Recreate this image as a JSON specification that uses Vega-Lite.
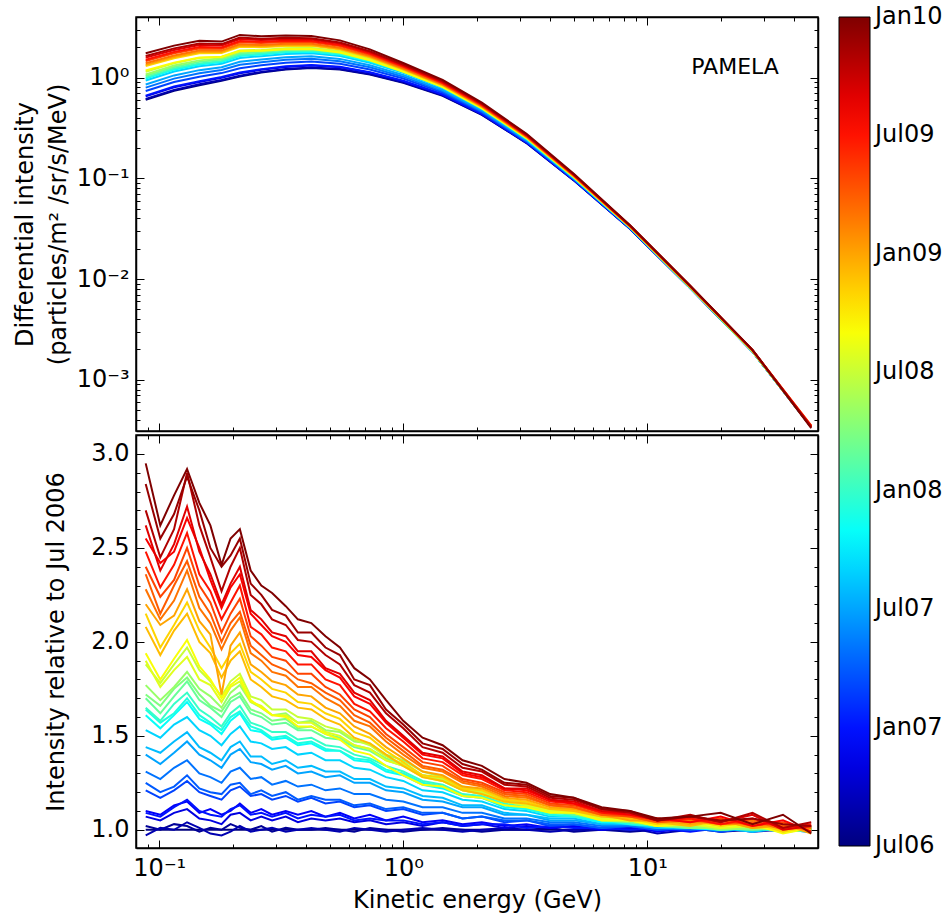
{
"$schema":"https://vega.github.io/schema/vega-lite/v6.json",
"background":"white",
"padding":{"left":12,"top":15,"right":0,"bottom":0},
"spacing":0,
"config":{
"font":"DejaVu Sans",
"view":{"stroke":"black","strokeWidth":1.5},
"axis":{"labelFont":"DejaVu Sans","titleFont":"DejaVu Sans","labelFontSize":24,"titleFontSize":24,"labelColor":"black","titleColor":"black","titleFontWeight":"normal","domainColor":"black","domainWidth":1.5,"tickColor":"black","tickWidth":1,"grid":false,"labelOverlap":false,"labelFlush":false,"labelBound":false},
"legend":{"gradientVerticalMaxLength":1000,"gradientVerticalMinLength":10}
},
"resolve":{"scale":{"x":"independent","y":"independent","color":"shared"}},
"datasets":{
"flux":[
{"t":0,"e":0.088,"f":0.603},{"t":0,"e":0.115,"f":0.741},{"t":0,"e":0.146,"f":0.841},{"t":0,"e":0.18,"f":0.933},{"t":0,"e":0.214,"f":1.023},{"t":0,"e":0.262,"f":1.122},{"t":0,"e":0.33,"f":1.202},{"t":0,"e":0.42,"f":1.245},{"t":0,"e":0.55,"f":1.202},{"t":0,"e":0.73,"f":1.072},{"t":0,"e":1.0,"f":0.891},{"t":0,"e":1.45,"f":0.661},{"t":0,"e":2.1,"f":0.427},{"t":0,"e":3.2,"f":0.224},{"t":0,"e":5.0,"f":0.0955},{"t":0,"e":8.5,"f":0.0316},{"t":0,"e":15,"f":0.00813},{"t":0,"e":27,"f":0.00191},{"t":0,"e":47,"f":0.00034},
{"t":2,"e":0.088,"f":0.615},{"t":2,"e":0.115,"f":0.756},{"t":2,"e":0.146,"f":0.858},{"t":2,"e":0.18,"f":0.949},{"t":2,"e":0.214,"f":1.042},{"t":2,"e":0.262,"f":1.141},{"t":2,"e":0.33,"f":1.221},{"t":2,"e":0.42,"f":1.264},{"t":2,"e":0.55,"f":1.218},{"t":2,"e":0.73,"f":1.084},{"t":2,"e":1.0,"f":0.899},{"t":2,"e":1.45,"f":0.666},{"t":2,"e":2.1,"f":0.429},{"t":2,"e":3.2,"f":0.225},{"t":2,"e":5.0,"f":0.0957},{"t":2,"e":8.5,"f":0.0316},{"t":2,"e":15,"f":0.00813},{"t":2,"e":27,"f":0.00191},{"t":2,"e":47,"f":0.00034},
{"t":4,"e":0.088,"f":0.651},{"t":4,"e":0.115,"f":0.800},{"t":4,"e":0.146,"f":0.907},{"t":4,"e":0.18,"f":0.997},{"t":4,"e":0.214,"f":1.103},{"t":4,"e":0.262,"f":1.196},{"t":4,"e":0.33,"f":1.277},{"t":4,"e":0.42,"f":1.317},{"t":4,"e":0.55,"f":1.266},{"t":4,"e":0.73,"f":1.121},{"t":4,"e":1.0,"f":0.924},{"t":4,"e":1.45,"f":0.680},{"t":4,"e":2.1,"f":0.436},{"t":4,"e":3.2,"f":0.227},{"t":4,"e":5.0,"f":0.0964},{"t":4,"e":8.5,"f":0.0317},{"t":4,"e":15,"f":0.00813},{"t":4,"e":27,"f":0.00191},{"t":4,"e":47,"f":0.00034},
{"t":6,"e":0.088,"f":0.663},{"t":6,"e":0.115,"f":0.815},{"t":6,"e":0.146,"f":0.923},{"t":6,"e":0.18,"f":1.013},{"t":6,"e":0.214,"f":1.122},{"t":6,"e":0.262,"f":1.215},{"t":6,"e":0.33,"f":1.296},{"t":6,"e":0.42,"f":1.336},{"t":6,"e":0.55,"f":1.281},{"t":6,"e":0.73,"f":1.133},{"t":6,"e":1.0,"f":0.932},{"t":6,"e":1.45,"f":0.684},{"t":6,"e":2.1,"f":0.438},{"t":6,"e":3.2,"f":0.228},{"t":6,"e":5.0,"f":0.0966},{"t":6,"e":8.5,"f":0.0318},{"t":6,"e":15,"f":0.00815},{"t":6,"e":27,"f":0.00191},{"t":6,"e":47,"f":0.00034},
{"t":8,"e":0.088,"f":0.736},{"t":8,"e":0.115,"f":0.904},{"t":8,"e":0.146,"f":1.022},{"t":8,"e":0.18,"f":1.109},{"t":8,"e":0.214,"f":1.241},{"t":8,"e":0.262,"f":1.327},{"t":8,"e":0.33,"f":1.408},{"t":8,"e":0.42,"f":1.445},{"t":8,"e":0.55,"f":1.376},{"t":8,"e":0.73,"f":1.206},{"t":8,"e":1.0,"f":0.981},{"t":8,"e":1.45,"f":0.712},{"t":8,"e":2.1,"f":0.451},{"t":8,"e":3.2,"f":0.232},{"t":8,"e":5.0,"f":0.0978},{"t":8,"e":8.5,"f":0.0320},{"t":8,"e":15,"f":0.00817},{"t":8,"e":27,"f":0.00191},{"t":8,"e":47,"f":0.00034},
{"t":10,"e":0.088,"f":0.796},{"t":10,"e":0.115,"f":0.978},{"t":10,"e":0.146,"f":1.105},{"t":10,"e":0.18,"f":1.190},{"t":10,"e":0.214,"f":1.340},{"t":10,"e":0.262,"f":1.420},{"t":10,"e":0.33,"f":1.502},{"t":10,"e":0.42,"f":1.536},{"t":10,"e":0.55,"f":1.456},{"t":10,"e":0.73,"f":1.268},{"t":10,"e":1.0,"f":1.022},{"t":10,"e":1.45,"f":0.735},{"t":10,"e":2.1,"f":0.463},{"t":10,"e":3.2,"f":0.236},{"t":10,"e":5.0,"f":0.0989},{"t":10,"e":8.5,"f":0.0321},{"t":10,"e":15,"f":0.00818},{"t":10,"e":27,"f":0.00191},{"t":10,"e":47,"f":0.00034},
{"t":12,"e":0.088,"f":0.856},{"t":12,"e":0.115,"f":1.052},{"t":12,"e":0.146,"f":1.187},{"t":12,"e":0.18,"f":1.270},{"t":12,"e":0.214,"f":1.440},{"t":12,"e":0.262,"f":1.513},{"t":12,"e":0.33,"f":1.596},{"t":12,"e":0.42,"f":1.627},{"t":12,"e":0.55,"f":1.535},{"t":12,"e":0.73,"f":1.329},{"t":12,"e":1.0,"f":1.063},{"t":12,"e":1.45,"f":0.758},{"t":12,"e":2.1,"f":0.474},{"t":12,"e":3.2,"f":0.240},{"t":12,"e":5.0,"f":0.0999},{"t":12,"e":8.5,"f":0.0323},{"t":12,"e":15,"f":0.00820},{"t":12,"e":27,"f":0.00191},{"t":12,"e":47,"f":0.00034},
{"t":14,"e":0.088,"f":0.935},{"t":14,"e":0.115,"f":1.149},{"t":14,"e":0.146,"f":1.294},{"t":14,"e":0.18,"f":1.374},{"t":14,"e":0.214,"f":1.569},{"t":14,"e":0.262,"f":1.634},{"t":14,"e":0.33,"f":1.718},{"t":14,"e":0.42,"f":1.745},{"t":14,"e":0.55,"f":1.638},{"t":14,"e":0.73,"f":1.408},{"t":14,"e":1.0,"f":1.117},{"t":14,"e":1.45,"f":0.788},{"t":14,"e":2.1,"f":0.488},{"t":14,"e":3.2,"f":0.245},{"t":14,"e":5.0,"f":0.1013},{"t":14,"e":8.5,"f":0.0325},{"t":14,"e":15,"f":0.00822},{"t":14,"e":27,"f":0.00191},{"t":14,"e":47,"f":0.00034},
{"t":16,"e":0.088,"f":0.977},{"t":16,"e":0.115,"f":1.200},{"t":16,"e":0.146,"f":1.352},{"t":16,"e":0.18,"f":1.430},{"t":16,"e":0.214,"f":1.638},{"t":16,"e":0.262,"f":1.699},{"t":16,"e":0.33,"f":1.784},{"t":16,"e":0.42,"f":1.809},{"t":16,"e":0.55,"f":1.694},{"t":16,"e":0.73,"f":1.451},{"t":16,"e":1.0,"f":1.145},{"t":16,"e":1.45,"f":0.804},{"t":16,"e":2.1,"f":0.496},{"t":16,"e":3.2,"f":0.248},{"t":16,"e":5.0,"f":0.102},{"t":16,"e":8.5,"f":0.0326},{"t":16,"e":15,"f":0.00823},{"t":16,"e":27,"f":0.00191},{"t":16,"e":47,"f":0.00034},
{"t":18,"e":0.088,"f":1.001},{"t":18,"e":0.115,"f":1.230},{"t":18,"e":0.146,"f":1.385},{"t":18,"e":0.18,"f":1.462},{"t":18,"e":0.214,"f":1.678},{"t":18,"e":0.262,"f":1.736},{"t":18,"e":0.33,"f":1.821},{"t":18,"e":0.42,"f":1.845},{"t":18,"e":0.55,"f":1.725},{"t":18,"e":0.73,"f":1.475},{"t":18,"e":1.0,"f":1.162},{"t":18,"e":1.45,"f":0.813},{"t":18,"e":2.1,"f":0.500},{"t":18,"e":3.2,"f":0.249},{"t":18,"e":5.0,"f":0.1024},{"t":18,"e":8.5,"f":0.0326},{"t":18,"e":15,"f":0.00824},{"t":18,"e":27,"f":0.00191},{"t":18,"e":47,"f":0.00034},
{"t":20,"e":0.088,"f":1.037},{"t":20,"e":0.115,"f":1.275},{"t":20,"e":0.146,"f":1.434},{"t":20,"e":0.18,"f":1.510},{"t":20,"e":0.214,"f":1.737},{"t":20,"e":0.262,"f":1.792},{"t":20,"e":0.33,"f":1.877},{"t":20,"e":0.42,"f":1.899},{"t":20,"e":0.55,"f":1.773},{"t":20,"e":0.73,"f":1.512},{"t":20,"e":1.0,"f":1.186},{"t":20,"e":1.45,"f":0.827},{"t":20,"e":2.1,"f":0.507},{"t":20,"e":3.2,"f":0.251},{"t":20,"e":5.0,"f":0.1031},{"t":20,"e":8.5,"f":0.0327},{"t":20,"e":15,"f":0.00825},{"t":20,"e":27,"f":0.00191},{"t":20,"e":47,"f":0.00034},
{"t":22,"e":0.088,"f":1.073},{"t":22,"e":0.115,"f":1.319},{"t":22,"e":0.146,"f":1.484},{"t":22,"e":0.18,"f":1.559},{"t":22,"e":0.214,"f":1.797},{"t":22,"e":0.262,"f":1.848},{"t":22,"e":0.33,"f":1.934},{"t":22,"e":0.42,"f":1.954},{"t":22,"e":0.55,"f":1.821},{"t":22,"e":0.73,"f":1.549},{"t":22,"e":1.0,"f":1.211},{"t":22,"e":1.45,"f":0.841},{"t":22,"e":2.1,"f":0.514},{"t":22,"e":3.2,"f":0.254},{"t":22,"e":5.0,"f":0.1037},{"t":22,"e":8.5,"f":0.0328},{"t":22,"e":15,"f":0.00826},{"t":22,"e":27,"f":0.00191},{"t":22,"e":47,"f":0.00034},
{"t":24,"e":0.088,"f":1.146},{"t":24,"e":0.115,"f":1.391},{"t":24,"e":0.146,"f":1.564},{"t":24,"e":0.18,"f":1.613},{"t":24,"e":0.214,"f":1.856},{"t":24,"e":0.262,"f":1.884},{"t":24,"e":0.33,"f":1.959},{"t":24,"e":0.42,"f":1.974},{"t":24,"e":0.55,"f":1.829},{"t":24,"e":0.73,"f":1.545},{"t":24,"e":1.0,"f":1.196},{"t":24,"e":1.45,"f":0.833},{"t":24,"e":2.1,"f":0.510},{"t":24,"e":3.2,"f":0.254},{"t":24,"e":5.0,"f":0.1039},{"t":24,"e":8.5,"f":0.0330},{"t":24,"e":15,"f":0.00831},{"t":24,"e":27,"f":0.00193},{"t":24,"e":47,"f":0.00034},
{"t":26,"e":0.088,"f":1.176},{"t":26,"e":0.115,"f":1.410},{"t":26,"e":0.146,"f":1.584},{"t":26,"e":0.18,"f":1.607},{"t":26,"e":0.214,"f":1.839},{"t":26,"e":0.262,"f":1.847},{"t":26,"e":0.33,"f":1.910},{"t":26,"e":0.42,"f":1.920},{"t":26,"e":0.55,"f":1.773},{"t":26,"e":0.73,"f":1.490},{"t":26,"e":1.0,"f":1.145},{"t":26,"e":1.45,"f":0.805},{"t":26,"e":2.1,"f":0.496},{"t":26,"e":3.2,"f":0.251},{"t":26,"e":5.0,"f":0.1032},{"t":26,"e":8.5,"f":0.0330},{"t":26,"e":15,"f":0.00836},{"t":26,"e":27,"f":0.00195},{"t":26,"e":47,"f":0.00034},
{"t":28,"e":0.088,"f":1.302},{"t":28,"e":0.115,"f":1.558},{"t":28,"e":0.146,"f":1.748},{"t":28,"e":0.18,"f":1.755},{"t":28,"e":0.214,"f":2.019},{"t":28,"e":0.262,"f":2.007},{"t":28,"e":0.33,"f":2.066},{"t":28,"e":0.42,"f":2.069},{"t":28,"e":0.55,"f":1.899},{"t":28,"e":0.73,"f":1.582},{"t":28,"e":1.0,"f":1.201},{"t":28,"e":1.45,"f":0.837},{"t":28,"e":2.1,"f":0.511},{"t":28,"e":3.2,"f":0.257},{"t":28,"e":5.0,"f":0.1049},{"t":28,"e":8.5,"f":0.0333},{"t":28,"e":15,"f":0.00841},{"t":28,"e":27,"f":0.00195},{"t":28,"e":47,"f":0.00034},
{"t":30,"e":0.088,"f":1.339},{"t":30,"e":0.115,"f":1.600},{"t":30,"e":0.146,"f":1.795},{"t":30,"e":0.18,"f":1.798},{"t":30,"e":0.214,"f":2.071},{"t":30,"e":0.262,"f":2.053},{"t":30,"e":0.33,"f":2.111},{"t":30,"e":0.42,"f":2.111},{"t":30,"e":0.55,"f":1.935},{"t":30,"e":0.73,"f":1.609},{"t":30,"e":1.0,"f":1.217},{"t":30,"e":1.45,"f":0.846},{"t":30,"e":2.1,"f":0.516},{"t":30,"e":3.2,"f":0.258},{"t":30,"e":5.0,"f":0.1054},{"t":30,"e":8.5,"f":0.0333},{"t":30,"e":15,"f":0.00843},{"t":30,"e":27,"f":0.00196},{"t":30,"e":47,"f":0.00035},
{"t":32,"e":0.088,"f":1.387},{"t":32,"e":0.115,"f":1.656},{"t":32,"e":0.146,"f":1.858},{"t":32,"e":0.18,"f":1.855},{"t":32,"e":0.214,"f":2.140},{"t":32,"e":0.262,"f":2.114},{"t":32,"e":0.33,"f":2.171},{"t":32,"e":0.42,"f":2.168},{"t":32,"e":0.55,"f":1.983},{"t":32,"e":0.73,"f":1.644},{"t":32,"e":1.0,"f":1.238},{"t":32,"e":1.45,"f":0.859},{"t":32,"e":2.1,"f":0.521},{"t":32,"e":3.2,"f":0.260},{"t":32,"e":5.0,"f":0.1061},{"t":32,"e":8.5,"f":0.0335},{"t":32,"e":15,"f":0.00845},{"t":32,"e":27,"f":0.00196},{"t":32,"e":47,"f":0.00034},
{"t":34,"e":0.088,"f":1.459},{"t":34,"e":0.115,"f":1.741},{"t":34,"e":0.146,"f":1.951},{"t":34,"e":0.18,"f":1.940},{"t":34,"e":0.214,"f":2.243},{"t":34,"e":0.262,"f":2.205},{"t":34,"e":0.33,"f":2.260},{"t":34,"e":0.42,"f":2.253},{"t":34,"e":0.55,"f":2.055},{"t":34,"e":0.73,"f":1.697},{"t":34,"e":1.0,"f":1.270},{"t":34,"e":1.45,"f":0.877},{"t":34,"e":2.1,"f":0.530},{"t":34,"e":3.2,"f":0.264},{"t":34,"e":5.0,"f":0.1070},{"t":34,"e":8.5,"f":0.0336},{"t":34,"e":15,"f":0.00848},{"t":34,"e":27,"f":0.00196},{"t":34,"e":47,"f":0.00034},
{"t":36,"e":0.088,"f":1.508},{"t":36,"e":0.115,"f":1.797},{"t":36,"e":0.146,"f":2.014},{"t":36,"e":0.18,"f":1.997},{"t":36,"e":0.214,"f":2.312},{"t":36,"e":0.262,"f":2.267},{"t":36,"e":0.33,"f":2.320},{"t":36,"e":0.42,"f":2.310},{"t":36,"e":0.55,"f":2.104},{"t":36,"e":0.73,"f":1.732},{"t":36,"e":1.0,"f":1.292},{"t":36,"e":1.45,"f":0.889},{"t":36,"e":2.1,"f":0.536},{"t":36,"e":3.2,"f":0.266},{"t":36,"e":5.0,"f":0.1077},{"t":36,"e":8.5,"f":0.0337},{"t":36,"e":15,"f":0.00850},{"t":36,"e":27,"f":0.00197},{"t":36,"e":47,"f":0.00035},
{"t":38,"e":0.088,"f":1.580},{"t":38,"e":0.115,"f":1.881},{"t":38,"e":0.146,"f":2.108},{"t":38,"e":0.18,"f":2.082},{"t":38,"e":0.214,"f":2.415},{"t":38,"e":0.262,"f":2.358},{"t":38,"e":0.33,"f":2.409},{"t":38,"e":0.42,"f":2.395},{"t":38,"e":0.55,"f":2.176},{"t":38,"e":0.73,"f":1.785},{"t":38,"e":1.0,"f":1.324},{"t":38,"e":1.45,"f":0.907},{"t":38,"e":2.1,"f":0.545},{"t":38,"e":3.2,"f":0.269},{"t":38,"e":5.0,"f":0.1087},{"t":38,"e":8.5,"f":0.0339},{"t":38,"e":15,"f":0.00853},{"t":38,"e":27,"f":0.00197},{"t":38,"e":47,"f":0.00034},
{"t":40,"e":0.088,"f":1.640},{"t":40,"e":0.115,"f":1.952},{"t":40,"e":0.146,"f":2.186},{"t":40,"e":0.18,"f":2.152},{"t":40,"e":0.214,"f":2.500},{"t":40,"e":0.262,"f":2.434},{"t":40,"e":0.33,"f":2.483},{"t":40,"e":0.42,"f":2.466},{"t":40,"e":0.55,"f":2.236},{"t":40,"e":0.73,"f":1.829},{"t":40,"e":1.0,"f":1.350},{"t":40,"e":1.45,"f":0.922},{"t":40,"e":2.1,"f":0.552},{"t":40,"e":3.2,"f":0.272},{"t":40,"e":5.0,"f":0.1095},{"t":40,"e":8.5,"f":0.0340},{"t":40,"e":15,"f":0.00855},{"t":40,"e":27,"f":0.00198},{"t":40,"e":47,"f":0.00034},
{"t":42,"e":0.088,"f":1.749},{"t":42,"e":0.115,"f":2.079},{"t":42,"e":0.146,"f":2.327},{"t":42,"e":0.18,"f":2.280},{"t":42,"e":0.214,"f":2.655},{"t":42,"e":0.262,"f":2.572},{"t":42,"e":0.33,"f":2.618},{"t":42,"e":0.42,"f":2.594},{"t":42,"e":0.55,"f":2.344},{"t":42,"e":0.73,"f":1.908},{"t":42,"e":1.0,"f":1.398},{"t":42,"e":1.45,"f":0.950},{"t":42,"e":2.1,"f":0.565},{"t":42,"e":3.2,"f":0.277},{"t":42,"e":5.0,"f":0.1109},{"t":42,"e":8.5,"f":0.0343},{"t":42,"e":15,"f":0.00859},{"t":42,"e":27,"f":0.00198},{"t":42,"e":47,"f":0.00033}
],
"ratio":[
{"t":0,"e":0.088,"r":1},{"t":0,"e":0.101,"r":1},{"t":0,"e":0.115,"r":1},{"t":0,"e":0.13,"r":1},{"t":0,"e":0.146,"r":1},{"t":0,"e":0.162,"r":1},{"t":0,"e":0.18,"r":1},{"t":0,"e":0.196,"r":1},{"t":0,"e":0.214,"r":1},{"t":0,"e":0.237,"r":1},{"t":0,"e":0.262,"r":1},{"t":0,"e":0.29,"r":1},{"t":0,"e":0.33,"r":1},{"t":0,"e":0.37,"r":1},{"t":0,"e":0.42,"r":1},{"t":0,"e":0.48,"r":1},{"t":0,"e":0.55,"r":1},{"t":0,"e":0.63,"r":1},{"t":0,"e":0.73,"r":1},{"t":0,"e":0.85,"r":1},{"t":0,"e":1.0,"r":1},{"t":0,"e":1.2,"r":1},{"t":0,"e":1.45,"r":1},{"t":0,"e":1.75,"r":1},{"t":0,"e":2.1,"r":1},{"t":0,"e":2.6,"r":1},{"t":0,"e":3.2,"r":1},{"t":0,"e":4.0,"r":1},{"t":0,"e":5.0,"r":1},{"t":0,"e":6.5,"r":1},{"t":0,"e":8.5,"r":1},{"t":0,"e":11,"r":1},{"t":0,"e":15,"r":1},{"t":0,"e":20,"r":1},{"t":0,"e":27,"r":1},{"t":0,"e":36,"r":1},{"t":0,"e":47,"r":1},
{"t":1,"e":0.088,"r":1.02},{"t":1,"e":0.101,"r":1.00},{"t":1,"e":0.115,"r":1.03},{"t":1,"e":0.13,"r":1.02},{"t":1,"e":0.146,"r":0.99},{"t":1,"e":0.162,"r":1.01},{"t":1,"e":0.18,"r":1.00},{"t":1,"e":0.196,"r":1.03},{"t":1,"e":0.214,"r":1.01},{"t":1,"e":0.237,"r":1.00},{"t":1,"e":0.262,"r":1.02},{"t":1,"e":0.29,"r":0.99},{"t":1,"e":0.33,"r":1.01},{"t":1,"e":0.37,"r":1.00},{"t":1,"e":0.42,"r":1.00},{"t":1,"e":0.48,"r":1.01},{"t":1,"e":0.55,"r":1.00},{"t":1,"e":0.63,"r":0.99},{"t":1,"e":0.73,"r":1.01},{"t":1,"e":0.85,"r":1.00},{"t":1,"e":1.0,"r":0.99},{"t":1,"e":1.2,"r":1.00},{"t":1,"e":1.45,"r":1.01},{"t":1,"e":1.75,"r":1.00},{"t":1,"e":2.1,"r":0.99},{"t":1,"e":2.6,"r":1.00},{"t":1,"e":3.2,"r":1.00},{"t":1,"e":4.0,"r":1.01},{"t":1,"e":5.0,"r":0.99},{"t":1,"e":6.5,"r":1.00},{"t":1,"e":8.5,"r":0.99},{"t":1,"e":11,"r":1.00},{"t":1,"e":15,"r":1.01},{"t":1,"e":20,"r":0.99},{"t":1,"e":27,"r":1.00},{"t":1,"e":36,"r":1.02},{"t":1,"e":47,"r":0.99},
{"t":2,"e":0.088,"r":0.97},{"t":2,"e":0.101,"r":1.01},{"t":2,"e":0.115,"r":1.00},{"t":2,"e":0.13,"r":1.04},{"t":2,"e":0.146,"r":1.01},{"t":2,"e":0.162,"r":0.98},{"t":2,"e":0.18,"r":0.97},{"t":2,"e":0.196,"r":0.99},{"t":2,"e":0.214,"r":1.02},{"t":2,"e":0.237,"r":0.99},{"t":2,"e":0.262,"r":1.00},{"t":2,"e":0.29,"r":1.01},{"t":2,"e":0.33,"r":0.99},{"t":2,"e":0.37,"r":1.00},{"t":2,"e":0.42,"r":1.01},{"t":2,"e":0.48,"r":1.00},{"t":2,"e":0.55,"r":0.99},{"t":2,"e":0.63,"r":1.01},{"t":2,"e":0.73,"r":1.00},{"t":2,"e":0.85,"r":0.99},{"t":2,"e":1.0,"r":1.00},{"t":2,"e":1.2,"r":1.01},{"t":2,"e":1.45,"r":1.00},{"t":2,"e":1.75,"r":0.99},{"t":2,"e":2.1,"r":1.00},{"t":2,"e":2.6,"r":1.01},{"t":2,"e":3.2,"r":1.00},{"t":2,"e":4.0,"r":0.99},{"t":2,"e":5.0,"r":1.00},{"t":2,"e":6.5,"r":1.00},{"t":2,"e":8.5,"r":1.01},{"t":2,"e":11,"r":0.98},{"t":2,"e":15,"r":1.00},{"t":2,"e":20,"r":1.01},{"t":2,"e":27,"r":0.99},{"t":2,"e":36,"r":1.00},{"t":2,"e":47,"r":1.01},
{"t":4,"e":0.088,"r":1.07},{"t":4,"e":0.101,"r":1.05},{"t":4,"e":0.115,"r":1.09},{"t":4,"e":0.13,"r":1.11},{"t":4,"e":0.146,"r":1.06},{"t":4,"e":0.162,"r":1.05},{"t":4,"e":0.18,"r":1.03},{"t":4,"e":0.196,"r":1.08},{"t":4,"e":0.214,"r":1.09},{"t":4,"e":0.237,"r":1.05},{"t":4,"e":0.262,"r":1.07},{"t":4,"e":0.29,"r":1.05},{"t":4,"e":0.33,"r":1.07},{"t":4,"e":0.37,"r":1.04},{"t":4,"e":0.42,"r":1.06},{"t":4,"e":0.48,"r":1.05},{"t":4,"e":0.55,"r":1.06},{"t":4,"e":0.63,"r":1.04},{"t":4,"e":0.73,"r":1.05},{"t":4,"e":0.85,"r":1.03},{"t":4,"e":1.0,"r":1.04},{"t":4,"e":1.2,"r":1.02},{"t":4,"e":1.45,"r":1.04},{"t":4,"e":1.75,"r":1.02},{"t":4,"e":2.1,"r":1.03},{"t":4,"e":2.6,"r":1.01},{"t":4,"e":3.2,"r":1.02},{"t":4,"e":4.0,"r":1.01},{"t":4,"e":5.0,"r":1.02},{"t":4,"e":6.5,"r":1.00},{"t":4,"e":8.5,"r":1.01},{"t":4,"e":11,"r":1.00},{"t":4,"e":15,"r":1.02},{"t":4,"e":20,"r":0.99},{"t":4,"e":27,"r":1.01},{"t":4,"e":36,"r":1.00},{"t":4,"e":47,"r":0.99},
{"t":5,"e":0.088,"r":1.10},{"t":5,"e":0.101,"r":1.08},{"t":5,"e":0.115,"r":1.13},{"t":5,"e":0.13,"r":1.15},{"t":5,"e":0.146,"r":1.09},{"t":5,"e":0.162,"r":1.11},{"t":5,"e":0.18,"r":1.08},{"t":5,"e":0.196,"r":1.10},{"t":5,"e":0.214,"r":1.14},{"t":5,"e":0.237,"r":1.09},{"t":5,"e":0.262,"r":1.11},{"t":5,"e":0.29,"r":1.08},{"t":5,"e":0.33,"r":1.10},{"t":5,"e":0.37,"r":1.08},{"t":5,"e":0.42,"r":1.10},{"t":5,"e":0.48,"r":1.07},{"t":5,"e":0.55,"r":1.09},{"t":5,"e":0.63,"r":1.06},{"t":5,"e":0.73,"r":1.08},{"t":5,"e":0.85,"r":1.05},{"t":5,"e":1.0,"r":1.07},{"t":5,"e":1.2,"r":1.04},{"t":5,"e":1.45,"r":1.05},{"t":5,"e":1.75,"r":1.03},{"t":5,"e":2.1,"r":1.04},{"t":5,"e":2.6,"r":1.02},{"t":5,"e":3.2,"r":1.03},{"t":5,"e":4.0,"r":1.01},{"t":5,"e":5.0,"r":1.02},{"t":5,"e":6.5,"r":1.00},{"t":5,"e":8.5,"r":1.02},{"t":5,"e":11,"r":0.99},{"t":5,"e":15,"r":1.01},{"t":5,"e":20,"r":1.00},{"t":5,"e":27,"r":1.01},{"t":5,"e":36,"r":0.99},{"t":5,"e":47,"r":1.01},
{"t":6,"e":0.088,"r":1.09},{"t":6,"e":0.101,"r":1.07},{"t":6,"e":0.115,"r":1.12},{"t":6,"e":0.13,"r":1.16},{"t":6,"e":0.146,"r":1.10},{"t":6,"e":0.162,"r":1.08},{"t":6,"e":0.18,"r":1.07},{"t":6,"e":0.196,"r":1.11},{"t":6,"e":0.214,"r":1.13},{"t":6,"e":0.237,"r":1.08},{"t":6,"e":0.262,"r":1.09},{"t":6,"e":0.29,"r":1.07},{"t":6,"e":0.33,"r":1.09},{"t":6,"e":0.37,"r":1.06},{"t":6,"e":0.42,"r":1.08},{"t":6,"e":0.48,"r":1.07},{"t":6,"e":0.55,"r":1.08},{"t":6,"e":0.63,"r":1.05},{"t":6,"e":0.73,"r":1.06},{"t":6,"e":0.85,"r":1.05},{"t":6,"e":1.0,"r":1.05},{"t":6,"e":1.2,"r":1.03},{"t":6,"e":1.45,"r":1.04},{"t":6,"e":1.75,"r":1.02},{"t":6,"e":2.1,"r":1.03},{"t":6,"e":2.6,"r":1.03},{"t":6,"e":3.2,"r":1.01},{"t":6,"e":4.0,"r":1.02},{"t":6,"e":5.0,"r":1.01},{"t":6,"e":6.5,"r":1.01},{"t":6,"e":8.5,"r":1.00},{"t":6,"e":11,"r":1.01},{"t":6,"e":15,"r":0.99},{"t":6,"e":20,"r":1.01},{"t":6,"e":27,"r":1.00},{"t":6,"e":36,"r":1.01},{"t":6,"e":47,"r":1.00},
{"t":8,"e":0.088,"r":1.21},{"t":8,"e":0.101,"r":1.17},{"t":8,"e":0.115,"r":1.21},{"t":8,"e":0.13,"r":1.26},{"t":8,"e":0.146,"r":1.20},{"t":8,"e":0.162,"r":1.18},{"t":8,"e":0.18,"r":1.16},{"t":8,"e":0.196,"r":1.21},{"t":8,"e":0.214,"r":1.23},{"t":8,"e":0.237,"r":1.18},{"t":8,"e":0.262,"r":1.19},{"t":8,"e":0.29,"r":1.16},{"t":8,"e":0.33,"r":1.18},{"t":8,"e":0.37,"r":1.15},{"t":8,"e":0.42,"r":1.17},{"t":8,"e":0.48,"r":1.14},{"t":8,"e":0.55,"r":1.15},{"t":8,"e":0.63,"r":1.12},{"t":8,"e":0.73,"r":1.13},{"t":8,"e":0.85,"r":1.10},{"t":8,"e":1.0,"r":1.11},{"t":8,"e":1.2,"r":1.08},{"t":8,"e":1.45,"r":1.09},{"t":8,"e":1.75,"r":1.06},{"t":8,"e":2.1,"r":1.07},{"t":8,"e":2.6,"r":1.04},{"t":8,"e":3.2,"r":1.05},{"t":8,"e":4.0,"r":1.02},{"t":8,"e":5.0,"r":1.03},{"t":8,"e":6.5,"r":1.01},{"t":8,"e":8.5,"r":1.02},{"t":8,"e":11,"r":1.00},{"t":8,"e":15,"r":1.01},{"t":8,"e":20,"r":1.00},{"t":8,"e":27,"r":1.02},{"t":8,"e":36,"r":0.99},{"t":8,"e":47,"r":1.01},
{"t":9,"e":0.088,"r":1.25},{"t":9,"e":0.101,"r":1.20},{"t":9,"e":0.115,"r":1.23},{"t":9,"e":0.13,"r":1.29},{"t":9,"e":0.146,"r":1.22},{"t":9,"e":0.162,"r":1.20},{"t":9,"e":0.18,"r":1.19},{"t":9,"e":0.196,"r":1.24},{"t":9,"e":0.214,"r":1.25},{"t":9,"e":0.237,"r":1.19},{"t":9,"e":0.262,"r":1.21},{"t":9,"e":0.29,"r":1.18},{"t":9,"e":0.33,"r":1.20},{"t":9,"e":0.37,"r":1.16},{"t":9,"e":0.42,"r":1.18},{"t":9,"e":0.48,"r":1.16},{"t":9,"e":0.55,"r":1.16},{"t":9,"e":0.63,"r":1.13},{"t":9,"e":0.73,"r":1.14},{"t":9,"e":0.85,"r":1.11},{"t":9,"e":1.0,"r":1.12},{"t":9,"e":1.2,"r":1.09},{"t":9,"e":1.45,"r":1.09},{"t":9,"e":1.75,"r":1.06},{"t":9,"e":2.1,"r":1.07},{"t":9,"e":2.6,"r":1.05},{"t":9,"e":3.2,"r":1.05},{"t":9,"e":4.0,"r":1.03},{"t":9,"e":5.0,"r":1.03},{"t":9,"e":6.5,"r":1.01},{"t":9,"e":8.5,"r":1.02},{"t":9,"e":11,"r":1.00},{"t":9,"e":15,"r":1.01},{"t":9,"e":20,"r":0.99},{"t":9,"e":27,"r":1.01},{"t":9,"e":36,"r":1.00},{"t":9,"e":47,"r":1.02},
{"t":10,"e":0.088,"r":1.31},{"t":10,"e":0.101,"r":1.27},{"t":10,"e":0.115,"r":1.33},{"t":10,"e":0.13,"r":1.37},{"t":10,"e":0.146,"r":1.30},{"t":10,"e":0.162,"r":1.28},{"t":10,"e":0.18,"r":1.25},{"t":10,"e":0.196,"r":1.31},{"t":10,"e":0.214,"r":1.33},{"t":10,"e":0.237,"r":1.27},{"t":10,"e":0.262,"r":1.28},{"t":10,"e":0.29,"r":1.24},{"t":10,"e":0.33,"r":1.26},{"t":10,"e":0.37,"r":1.23},{"t":10,"e":0.42,"r":1.24},{"t":10,"e":0.48,"r":1.21},{"t":10,"e":0.55,"r":1.22},{"t":10,"e":0.63,"r":1.19},{"t":10,"e":0.73,"r":1.19},{"t":10,"e":0.85,"r":1.16},{"t":10,"e":1.0,"r":1.15},{"t":10,"e":1.2,"r":1.12},{"t":10,"e":1.45,"r":1.12},{"t":10,"e":1.75,"r":1.09},{"t":10,"e":2.1,"r":1.09},{"t":10,"e":2.6,"r":1.06},{"t":10,"e":3.2,"r":1.06},{"t":10,"e":4.0,"r":1.04},{"t":10,"e":5.0,"r":1.04},{"t":10,"e":6.5,"r":1.02},{"t":10,"e":8.5,"r":1.02},{"t":10,"e":11,"r":1.01},{"t":10,"e":15,"r":1.00},{"t":10,"e":20,"r":1.01},{"t":10,"e":27,"r":0.99},{"t":10,"e":36,"r":1.01},{"t":10,"e":47,"r":1.00},
{"t":12,"e":0.088,"r":1.40},{"t":12,"e":0.101,"r":1.35},{"t":12,"e":0.115,"r":1.41},{"t":12,"e":0.13,"r":1.47},{"t":12,"e":0.146,"r":1.40},{"t":12,"e":0.162,"r":1.37},{"t":12,"e":0.18,"r":1.33},{"t":12,"e":0.196,"r":1.40},{"t":12,"e":0.214,"r":1.43},{"t":12,"e":0.237,"r":1.36},{"t":12,"e":0.262,"r":1.35},{"t":12,"e":0.29,"r":1.32},{"t":12,"e":0.33,"r":1.34},{"t":12,"e":0.37,"r":1.30},{"t":12,"e":0.42,"r":1.31},{"t":12,"e":0.48,"r":1.28},{"t":12,"e":0.55,"r":1.29},{"t":12,"e":0.63,"r":1.25},{"t":12,"e":0.73,"r":1.25},{"t":12,"e":0.85,"r":1.21},{"t":12,"e":1.0,"r":1.20},{"t":12,"e":1.2,"r":1.16},{"t":12,"e":1.45,"r":1.15},{"t":12,"e":1.75,"r":1.12},{"t":12,"e":2.1,"r":1.12},{"t":12,"e":2.6,"r":1.08},{"t":12,"e":3.2,"r":1.08},{"t":12,"e":4.0,"r":1.05},{"t":12,"e":5.0,"r":1.05},{"t":12,"e":6.5,"r":1.03},{"t":12,"e":8.5,"r":1.03},{"t":12,"e":11,"r":1.01},{"t":12,"e":15,"r":1.01},{"t":12,"e":20,"r":1.00},{"t":12,"e":27,"r":1.01},{"t":12,"e":36,"r":0.99},{"t":12,"e":47,"r":1.00},
{"t":13,"e":0.088,"r":1.44},{"t":13,"e":0.101,"r":1.41},{"t":13,"e":0.115,"r":1.47},{"t":13,"e":0.13,"r":1.52},{"t":13,"e":0.146,"r":1.44},{"t":13,"e":0.162,"r":1.41},{"t":13,"e":0.18,"r":1.37},{"t":13,"e":0.196,"r":1.44},{"t":13,"e":0.214,"r":1.47},{"t":13,"e":0.237,"r":1.39},{"t":13,"e":0.262,"r":1.39},{"t":13,"e":0.29,"r":1.35},{"t":13,"e":0.33,"r":1.37},{"t":13,"e":0.37,"r":1.33},{"t":13,"e":0.42,"r":1.34},{"t":13,"e":0.48,"r":1.31},{"t":13,"e":0.55,"r":1.31},{"t":13,"e":0.63,"r":1.27},{"t":13,"e":0.73,"r":1.27},{"t":13,"e":0.85,"r":1.23},{"t":13,"e":1.0,"r":1.22},{"t":13,"e":1.2,"r":1.18},{"t":13,"e":1.45,"r":1.17},{"t":13,"e":1.75,"r":1.13},{"t":13,"e":2.1,"r":1.13},{"t":13,"e":2.6,"r":1.09},{"t":13,"e":3.2,"r":1.08},{"t":13,"e":4.0,"r":1.06},{"t":13,"e":5.0,"r":1.06},{"t":13,"e":6.5,"r":1.03},{"t":13,"e":8.5,"r":1.03},{"t":13,"e":11,"r":1.01},{"t":13,"e":15,"r":1.01},{"t":13,"e":20,"r":1.00},{"t":13,"e":27,"r":1.01},{"t":13,"e":36,"r":1.00},{"t":13,"e":47,"r":0.99},
{"t":14,"e":0.088,"r":1.53},{"t":14,"e":0.101,"r":1.49},{"t":14,"e":0.115,"r":1.56},{"t":14,"e":0.13,"r":1.60},{"t":14,"e":0.146,"r":1.53},{"t":14,"e":0.162,"r":1.50},{"t":14,"e":0.18,"r":1.45},{"t":14,"e":0.196,"r":1.51},{"t":14,"e":0.214,"r":1.55},{"t":14,"e":0.237,"r":1.47},{"t":14,"e":0.262,"r":1.46},{"t":14,"e":0.29,"r":1.43},{"t":14,"e":0.33,"r":1.44},{"t":14,"e":0.37,"r":1.40},{"t":14,"e":0.42,"r":1.41},{"t":14,"e":0.48,"r":1.37},{"t":14,"e":0.55,"r":1.37},{"t":14,"e":0.63,"r":1.33},{"t":14,"e":0.73,"r":1.32},{"t":14,"e":0.85,"r":1.28},{"t":14,"e":1.0,"r":1.26},{"t":14,"e":1.2,"r":1.21},{"t":14,"e":1.45,"r":1.20},{"t":14,"e":1.75,"r":1.16},{"t":14,"e":2.1,"r":1.15},{"t":14,"e":2.6,"r":1.11},{"t":14,"e":3.2,"r":1.10},{"t":14,"e":4.0,"r":1.07},{"t":14,"e":5.0,"r":1.07},{"t":14,"e":6.5,"r":1.04},{"t":14,"e":8.5,"r":1.03},{"t":14,"e":11,"r":1.02},{"t":14,"e":15,"r":1.01},{"t":14,"e":20,"r":1.01},{"t":14,"e":27,"r":0.99},{"t":14,"e":36,"r":1.01},{"t":14,"e":47,"r":1.00},
{"t":16,"e":0.088,"r":1.61},{"t":16,"e":0.101,"r":1.54},{"t":16,"e":0.115,"r":1.61},{"t":16,"e":0.13,"r":1.68},{"t":16,"e":0.146,"r":1.59},{"t":16,"e":0.162,"r":1.56},{"t":16,"e":0.18,"r":1.51},{"t":16,"e":0.196,"r":1.58},{"t":16,"e":0.214,"r":1.62},{"t":16,"e":0.237,"r":1.53},{"t":16,"e":0.262,"r":1.52},{"t":16,"e":0.29,"r":1.48},{"t":16,"e":0.33,"r":1.49},{"t":16,"e":0.37,"r":1.45},{"t":16,"e":0.42,"r":1.46},{"t":16,"e":0.48,"r":1.42},{"t":16,"e":0.55,"r":1.42},{"t":16,"e":0.63,"r":1.37},{"t":16,"e":0.73,"r":1.36},{"t":16,"e":0.85,"r":1.31},{"t":16,"e":1.0,"r":1.29},{"t":16,"e":1.2,"r":1.24},{"t":16,"e":1.45,"r":1.22},{"t":16,"e":1.75,"r":1.18},{"t":16,"e":2.1,"r":1.17},{"t":16,"e":2.6,"r":1.12},{"t":16,"e":3.2,"r":1.11},{"t":16,"e":4.0,"r":1.08},{"t":16,"e":5.0,"r":1.07},{"t":16,"e":6.5,"r":1.04},{"t":16,"e":8.5,"r":1.04},{"t":16,"e":11,"r":1.02},{"t":16,"e":15,"r":1.01},{"t":16,"e":20,"r":1.00},{"t":16,"e":27,"r":1.01},{"t":16,"e":36,"r":1.00},{"t":16,"e":47,"r":0.99},
{"t":17,"e":0.088,"r":1.64},{"t":17,"e":0.101,"r":1.57},{"t":17,"e":0.115,"r":1.62},{"t":17,"e":0.13,"r":1.70},{"t":17,"e":0.146,"r":1.61},{"t":17,"e":0.162,"r":1.57},{"t":17,"e":0.18,"r":1.53},{"t":17,"e":0.196,"r":1.60},{"t":17,"e":0.214,"r":1.63},{"t":17,"e":0.237,"r":1.55},{"t":17,"e":0.262,"r":1.53},{"t":17,"e":0.29,"r":1.49},{"t":17,"e":0.33,"r":1.50},{"t":17,"e":0.37,"r":1.46},{"t":17,"e":0.42,"r":1.47},{"t":17,"e":0.48,"r":1.43},{"t":17,"e":0.55,"r":1.42},{"t":17,"e":0.63,"r":1.38},{"t":17,"e":0.73,"r":1.37},{"t":17,"e":0.85,"r":1.32},{"t":17,"e":1.0,"r":1.30},{"t":17,"e":1.2,"r":1.25},{"t":17,"e":1.45,"r":1.23},{"t":17,"e":1.75,"r":1.18},{"t":17,"e":2.1,"r":1.17},{"t":17,"e":2.6,"r":1.13},{"t":17,"e":3.2,"r":1.11},{"t":17,"e":4.0,"r":1.08},{"t":17,"e":5.0,"r":1.07},{"t":17,"e":6.5,"r":1.05},{"t":17,"e":8.5,"r":1.03},{"t":17,"e":11,"r":1.02},{"t":17,"e":15,"r":1.02},{"t":17,"e":20,"r":1.00},{"t":17,"e":27,"r":1.01},{"t":17,"e":36,"r":1.00},{"t":17,"e":47,"r":1.01},
{"t":18,"e":0.088,"r":1.65},{"t":18,"e":0.101,"r":1.58},{"t":18,"e":0.115,"r":1.67},{"t":18,"e":0.13,"r":1.73},{"t":18,"e":0.146,"r":1.64},{"t":18,"e":0.162,"r":1.60},{"t":18,"e":0.18,"r":1.55},{"t":18,"e":0.196,"r":1.62},{"t":18,"e":0.214,"r":1.66},{"t":18,"e":0.237,"r":1.57},{"t":18,"e":0.262,"r":1.55},{"t":18,"e":0.29,"r":1.52},{"t":18,"e":0.33,"r":1.52},{"t":18,"e":0.37,"r":1.48},{"t":18,"e":0.42,"r":1.49},{"t":18,"e":0.48,"r":1.45},{"t":18,"e":0.55,"r":1.44},{"t":18,"e":0.63,"r":1.40},{"t":18,"e":0.73,"r":1.38},{"t":18,"e":0.85,"r":1.34},{"t":18,"e":1.0,"r":1.31},{"t":18,"e":1.2,"r":1.26},{"t":18,"e":1.45,"r":1.24},{"t":18,"e":1.75,"r":1.19},{"t":18,"e":2.1,"r":1.18},{"t":18,"e":2.6,"r":1.14},{"t":18,"e":3.2,"r":1.12},{"t":18,"e":4.0,"r":1.09},{"t":18,"e":5.0,"r":1.08},{"t":18,"e":6.5,"r":1.05},{"t":18,"e":8.5,"r":1.04},{"t":18,"e":11,"r":1.02},{"t":18,"e":15,"r":1.02},{"t":18,"e":20,"r":1.00},{"t":18,"e":27,"r":1.01},{"t":18,"e":36,"r":0.99},{"t":18,"e":47,"r":1.00},
{"t":20,"e":0.088,"r":1.70},{"t":20,"e":0.101,"r":1.62},{"t":20,"e":0.115,"r":1.71},{"t":20,"e":0.13,"r":1.79},{"t":20,"e":0.146,"r":1.69},{"t":20,"e":0.162,"r":1.65},{"t":20,"e":0.18,"r":1.60},{"t":20,"e":0.196,"r":1.68},{"t":20,"e":0.214,"r":1.71},{"t":20,"e":0.237,"r":1.62},{"t":20,"e":0.262,"r":1.60},{"t":20,"e":0.29,"r":1.56},{"t":20,"e":0.33,"r":1.57},{"t":20,"e":0.37,"r":1.53},{"t":20,"e":0.42,"r":1.53},{"t":20,"e":0.48,"r":1.49},{"t":20,"e":0.55,"r":1.48},{"t":20,"e":0.63,"r":1.44},{"t":20,"e":0.73,"r":1.42},{"t":20,"e":0.85,"r":1.37},{"t":20,"e":1.0,"r":1.34},{"t":20,"e":1.2,"r":1.29},{"t":20,"e":1.45,"r":1.26},{"t":20,"e":1.75,"r":1.21},{"t":20,"e":2.1,"r":1.19},{"t":20,"e":2.6,"r":1.15},{"t":20,"e":3.2,"r":1.13},{"t":20,"e":4.0,"r":1.10},{"t":20,"e":5.0,"r":1.08},{"t":20,"e":6.5,"r":1.06},{"t":20,"e":8.5,"r":1.04},{"t":20,"e":11,"r":1.02},{"t":20,"e":15,"r":1.01},{"t":20,"e":20,"r":1.01},{"t":20,"e":27,"r":1.00},{"t":20,"e":36,"r":1.01},{"t":20,"e":47,"r":0.99},
{"t":21,"e":0.088,"r":1.72},{"t":21,"e":0.101,"r":1.66},{"t":21,"e":0.115,"r":1.75},{"t":21,"e":0.13,"r":1.81},{"t":21,"e":0.146,"r":1.72},{"t":21,"e":0.162,"r":1.66},{"t":21,"e":0.18,"r":1.63},{"t":21,"e":0.196,"r":1.70},{"t":21,"e":0.214,"r":1.73},{"t":21,"e":0.237,"r":1.64},{"t":21,"e":0.262,"r":1.62},{"t":21,"e":0.29,"r":1.58},{"t":21,"e":0.33,"r":1.59},{"t":21,"e":0.37,"r":1.54},{"t":21,"e":0.42,"r":1.55},{"t":21,"e":0.48,"r":1.51},{"t":21,"e":0.55,"r":1.49},{"t":21,"e":0.63,"r":1.45},{"t":21,"e":0.73,"r":1.43},{"t":21,"e":0.85,"r":1.38},{"t":21,"e":1.0,"r":1.35},{"t":21,"e":1.2,"r":1.29},{"t":21,"e":1.45,"r":1.27},{"t":21,"e":1.75,"r":1.22},{"t":21,"e":2.1,"r":1.20},{"t":21,"e":2.6,"r":1.15},{"t":21,"e":3.2,"r":1.13},{"t":21,"e":4.0,"r":1.10},{"t":21,"e":5.0,"r":1.09},{"t":21,"e":6.5,"r":1.05},{"t":21,"e":8.5,"r":1.04},{"t":21,"e":11,"r":1.03},{"t":21,"e":15,"r":1.01},{"t":21,"e":20,"r":1.01},{"t":21,"e":27,"r":1.00},{"t":21,"e":36,"r":1.01},{"t":21,"e":47,"r":1.00},
{"t":22,"e":0.088,"r":1.77},{"t":22,"e":0.101,"r":1.69},{"t":22,"e":0.115,"r":1.76},{"t":22,"e":0.13,"r":1.84},{"t":22,"e":0.146,"r":1.75},{"t":22,"e":0.162,"r":1.71},{"t":22,"e":0.18,"r":1.65},{"t":22,"e":0.196,"r":1.73},{"t":22,"e":0.214,"r":1.77},{"t":22,"e":0.237,"r":1.68},{"t":22,"e":0.262,"r":1.65},{"t":22,"e":0.29,"r":1.61},{"t":22,"e":0.33,"r":1.62},{"t":22,"e":0.37,"r":1.57},{"t":22,"e":0.42,"r":1.58},{"t":22,"e":0.48,"r":1.53},{"t":22,"e":0.55,"r":1.52},{"t":22,"e":0.63,"r":1.47},{"t":22,"e":0.73,"r":1.46},{"t":22,"e":0.85,"r":1.40},{"t":22,"e":1.0,"r":1.37},{"t":22,"e":1.2,"r":1.31},{"t":22,"e":1.45,"r":1.28},{"t":22,"e":1.75,"r":1.23},{"t":22,"e":2.1,"r":1.21},{"t":22,"e":2.6,"r":1.16},{"t":22,"e":3.2,"r":1.14},{"t":22,"e":4.0,"r":1.10},{"t":22,"e":5.0,"r":1.09},{"t":22,"e":6.5,"r":1.06},{"t":22,"e":8.5,"r":1.05},{"t":22,"e":11,"r":1.02},{"t":22,"e":15,"r":1.02},{"t":22,"e":20,"r":1.00},{"t":22,"e":27,"r":1.01},{"t":22,"e":36,"r":1.00},{"t":22,"e":47,"r":1.00},
{"t":24,"e":0.088,"r":1.88},{"t":24,"e":0.101,"r":1.78},{"t":24,"e":0.115,"r":1.88},{"t":24,"e":0.13,"r":1.97},{"t":24,"e":0.146,"r":1.85},{"t":24,"e":0.162,"r":1.79},{"t":24,"e":0.18,"r":1.71},{"t":24,"e":0.196,"r":1.79},{"t":24,"e":0.214,"r":1.83},{"t":24,"e":0.237,"r":1.71},{"t":24,"e":0.262,"r":1.69},{"t":24,"e":0.29,"r":1.64},{"t":24,"e":0.33,"r":1.64},{"t":24,"e":0.37,"r":1.60},{"t":24,"e":0.42,"r":1.59},{"t":24,"e":0.48,"r":1.55},{"t":24,"e":0.55,"r":1.53},{"t":24,"e":0.63,"r":1.48},{"t":24,"e":0.73,"r":1.45},{"t":24,"e":0.85,"r":1.39},{"t":24,"e":1.0,"r":1.35},{"t":24,"e":1.2,"r":1.29},{"t":24,"e":1.45,"r":1.27},{"t":24,"e":1.75,"r":1.22},{"t":24,"e":2.1,"r":1.20},{"t":24,"e":2.6,"r":1.15},{"t":24,"e":3.2,"r":1.14},{"t":24,"e":4.0,"r":1.10},{"t":24,"e":5.0,"r":1.10},{"t":24,"e":6.5,"r":1.06},{"t":24,"e":8.5,"r":1.05},{"t":24,"e":11,"r":1.02},{"t":24,"e":15,"r":1.03},{"t":24,"e":20,"r":1.01},{"t":24,"e":27,"r":1.02},{"t":24,"e":36,"r":0.99},{"t":24,"e":47,"r":1.01},
{"t":25,"e":0.088,"r":1.90},{"t":25,"e":0.101,"r":1.76},{"t":25,"e":0.115,"r":1.85},{"t":25,"e":0.13,"r":1.92},{"t":25,"e":0.146,"r":1.80},{"t":25,"e":0.162,"r":1.77},{"t":25,"e":0.18,"r":1.68},{"t":25,"e":0.196,"r":1.76},{"t":25,"e":0.214,"r":1.79},{"t":25,"e":0.237,"r":1.68},{"t":25,"e":0.262,"r":1.66},{"t":25,"e":0.29,"r":1.61},{"t":25,"e":0.33,"r":1.61},{"t":25,"e":0.37,"r":1.57},{"t":25,"e":0.42,"r":1.57},{"t":25,"e":0.48,"r":1.52},{"t":25,"e":0.55,"r":1.50},{"t":25,"e":0.63,"r":1.45},{"t":25,"e":0.73,"r":1.43},{"t":25,"e":0.85,"r":1.37},{"t":25,"e":1.0,"r":1.34},{"t":25,"e":1.2,"r":1.28},{"t":25,"e":1.45,"r":1.26},{"t":25,"e":1.75,"r":1.21},{"t":25,"e":2.1,"r":1.19},{"t":25,"e":2.6,"r":1.15},{"t":25,"e":3.2,"r":1.13},{"t":25,"e":4.0,"r":1.10},{"t":25,"e":5.0,"r":1.09},{"t":25,"e":6.5,"r":1.06},{"t":25,"e":8.5,"r":1.05},{"t":25,"e":11,"r":1.02},{"t":25,"e":15,"r":1.03},{"t":25,"e":20,"r":1.01},{"t":25,"e":27,"r":1.02},{"t":25,"e":36,"r":1.00},{"t":25,"e":47,"r":1.01},
{"t":26,"e":0.088,"r":1.94},{"t":26,"e":0.101,"r":1.80},{"t":26,"e":0.115,"r":1.91},{"t":26,"e":0.13,"r":2.01},{"t":26,"e":0.146,"r":1.87},{"t":26,"e":0.162,"r":1.80},{"t":26,"e":0.18,"r":1.70},{"t":26,"e":0.196,"r":1.77},{"t":26,"e":0.214,"r":1.81},{"t":26,"e":0.237,"r":1.69},{"t":26,"e":0.262,"r":1.65},{"t":26,"e":0.29,"r":1.61},{"t":26,"e":0.33,"r":1.60},{"t":26,"e":0.37,"r":1.55},{"t":26,"e":0.42,"r":1.55},{"t":26,"e":0.48,"r":1.51},{"t":26,"e":0.55,"r":1.48},{"t":26,"e":0.63,"r":1.42},{"t":26,"e":0.73,"r":1.40},{"t":26,"e":0.85,"r":1.34},{"t":26,"e":1.0,"r":1.29},{"t":26,"e":1.2,"r":1.24},{"t":26,"e":1.45,"r":1.23},{"t":26,"e":1.75,"r":1.18},{"t":26,"e":2.1,"r":1.17},{"t":26,"e":2.6,"r":1.13},{"t":26,"e":3.2,"r":1.12},{"t":26,"e":4.0,"r":1.09},{"t":26,"e":5.0,"r":1.09},{"t":26,"e":6.5,"r":1.05},{"t":26,"e":8.5,"r":1.05},{"t":26,"e":11,"r":1.02},{"t":26,"e":15,"r":1.04},{"t":26,"e":20,"r":1.02},{"t":26,"e":27,"r":1.03},{"t":26,"e":36,"r":0.98},{"t":26,"e":47,"r":1.01},
{"t":28,"e":0.088,"r":2.15},{"t":28,"e":0.101,"r":1.97},{"t":28,"e":0.115,"r":2.09},{"t":28,"e":0.13,"r":2.21},{"t":28,"e":0.146,"r":2.06},{"t":28,"e":0.162,"r":1.97},{"t":28,"e":0.18,"r":1.86},{"t":28,"e":0.196,"r":1.94},{"t":28,"e":0.214,"r":1.99},{"t":28,"e":0.237,"r":1.84},{"t":28,"e":0.262,"r":1.80},{"t":28,"e":0.29,"r":1.75},{"t":28,"e":0.33,"r":1.73},{"t":28,"e":0.37,"r":1.68},{"t":28,"e":0.42,"r":1.67},{"t":28,"e":0.48,"r":1.62},{"t":28,"e":0.55,"r":1.59},{"t":28,"e":0.63,"r":1.52},{"t":28,"e":0.73,"r":1.49},{"t":28,"e":0.85,"r":1.42},{"t":28,"e":1.0,"r":1.36},{"t":28,"e":1.2,"r":1.29},{"t":28,"e":1.45,"r":1.28},{"t":28,"e":1.75,"r":1.22},{"t":28,"e":2.1,"r":1.21},{"t":28,"e":2.6,"r":1.16},{"t":28,"e":3.2,"r":1.15},{"t":28,"e":4.0,"r":1.11},{"t":28,"e":5.0,"r":1.11},{"t":28,"e":6.5,"r":1.07},{"t":28,"e":8.5,"r":1.06},{"t":28,"e":11,"r":1.03},{"t":28,"e":15,"r":1.05},{"t":28,"e":20,"r":1.02},{"t":28,"e":27,"r":1.04},{"t":28,"e":36,"r":0.99},{"t":28,"e":47,"r":1.02},
{"t":29,"e":0.088,"r":2.08},{"t":29,"e":0.101,"r":1.93},{"t":29,"e":0.115,"r":2.06},{"t":29,"e":0.13,"r":2.15},{"t":29,"e":0.146,"r":2.00},{"t":29,"e":0.162,"r":1.94},{"t":29,"e":0.18,"r":1.81},{"t":29,"e":0.196,"r":1.90},{"t":29,"e":0.214,"r":1.95},{"t":29,"e":0.237,"r":1.80},{"t":29,"e":0.262,"r":1.76},{"t":29,"e":0.29,"r":1.71},{"t":29,"e":0.33,"r":1.69},{"t":29,"e":0.37,"r":1.65},{"t":29,"e":0.42,"r":1.64},{"t":29,"e":0.48,"r":1.59},{"t":29,"e":0.55,"r":1.56},{"t":29,"e":0.63,"r":1.49},{"t":29,"e":0.73,"r":1.46},{"t":29,"e":0.85,"r":1.40},{"t":29,"e":1.0,"r":1.34},{"t":29,"e":1.2,"r":1.28},{"t":29,"e":1.45,"r":1.26},{"t":29,"e":1.75,"r":1.21},{"t":29,"e":2.1,"r":1.19},{"t":29,"e":2.6,"r":1.15},{"t":29,"e":3.2,"r":1.14},{"t":29,"e":4.0,"r":1.11},{"t":29,"e":5.0,"r":1.10},{"t":29,"e":6.5,"r":1.07},{"t":29,"e":8.5,"r":1.06},{"t":29,"e":11,"r":1.04},{"t":29,"e":15,"r":1.02},{"t":29,"e":20,"r":1.05},{"t":29,"e":27,"r":1.01},{"t":29,"e":36,"r":1.02},{"t":29,"e":47,"r":1.00},
{"t":30,"e":0.088,"r":2.20},{"t":30,"e":0.101,"r":2.09},{"t":30,"e":0.115,"r":2.14},{"t":30,"e":0.13,"r":2.28},{"t":30,"e":0.146,"r":2.11},{"t":30,"e":0.162,"r":2.04},{"t":30,"e":0.18,"r":1.72},{"t":30,"e":0.196,"r":1.98},{"t":30,"e":0.214,"r":2.05},{"t":30,"e":0.237,"r":1.88},{"t":30,"e":0.262,"r":1.84},{"t":30,"e":0.29,"r":1.79},{"t":30,"e":0.33,"r":1.77},{"t":30,"e":0.37,"r":1.72},{"t":30,"e":0.42,"r":1.71},{"t":30,"e":0.48,"r":1.65},{"t":30,"e":0.55,"r":1.62},{"t":30,"e":0.63,"r":1.55},{"t":30,"e":0.73,"r":1.51},{"t":30,"e":0.85,"r":1.44},{"t":30,"e":1.0,"r":1.38},{"t":30,"e":1.2,"r":1.31},{"t":30,"e":1.45,"r":1.29},{"t":30,"e":1.75,"r":1.23},{"t":30,"e":2.1,"r":1.22},{"t":30,"e":2.6,"r":1.17},{"t":30,"e":3.2,"r":1.16},{"t":30,"e":4.0,"r":1.12},{"t":30,"e":5.0,"r":1.11},{"t":30,"e":6.5,"r":1.08},{"t":30,"e":8.5,"r":1.05},{"t":30,"e":11,"r":1.05},{"t":30,"e":15,"r":1.03},{"t":30,"e":20,"r":1.05},{"t":30,"e":27,"r":1.01},{"t":30,"e":36,"r":1.03},{"t":30,"e":47,"r":0.98},
{"t":32,"e":0.088,"r":2.28},{"t":32,"e":0.101,"r":2.12},{"t":32,"e":0.115,"r":2.22},{"t":32,"e":0.13,"r":2.38},{"t":32,"e":0.146,"r":2.18},{"t":32,"e":0.162,"r":2.10},{"t":32,"e":0.18,"r":1.96},{"t":32,"e":0.196,"r":2.06},{"t":32,"e":0.214,"r":2.13},{"t":32,"e":0.237,"r":1.94},{"t":32,"e":0.262,"r":1.90},{"t":32,"e":0.29,"r":1.84},{"t":32,"e":0.33,"r":1.82},{"t":32,"e":0.37,"r":1.76},{"t":32,"e":0.42,"r":1.76},{"t":32,"e":0.48,"r":1.70},{"t":32,"e":0.55,"r":1.66},{"t":32,"e":0.63,"r":1.58},{"t":32,"e":0.73,"r":1.55},{"t":32,"e":0.85,"r":1.47},{"t":32,"e":1.0,"r":1.40},{"t":32,"e":1.2,"r":1.33},{"t":32,"e":1.45,"r":1.31},{"t":32,"e":1.75,"r":1.25},{"t":32,"e":2.1,"r":1.23},{"t":32,"e":2.6,"r":1.18},{"t":32,"e":3.2,"r":1.17},{"t":32,"e":4.0,"r":1.13},{"t":32,"e":5.0,"r":1.12},{"t":32,"e":6.5,"r":1.08},{"t":32,"e":8.5,"r":1.07},{"t":32,"e":11,"r":1.04},{"t":32,"e":15,"r":1.05},{"t":32,"e":20,"r":1.03},{"t":32,"e":27,"r":1.05},{"t":32,"e":36,"r":1.00},{"t":32,"e":47,"r":1.02},
{"t":33,"e":0.088,"r":2.36},{"t":33,"e":0.101,"r":2.15},{"t":33,"e":0.115,"r":2.30},{"t":33,"e":0.13,"r":2.43},{"t":33,"e":0.146,"r":2.24},{"t":33,"e":0.162,"r":2.15},{"t":33,"e":0.18,"r":2.00},{"t":33,"e":0.196,"r":2.10},{"t":33,"e":0.214,"r":2.16},{"t":33,"e":0.237,"r":1.98},{"t":33,"e":0.262,"r":1.93},{"t":33,"e":0.29,"r":1.88},{"t":33,"e":0.33,"r":1.85},{"t":33,"e":0.37,"r":1.80},{"t":33,"e":0.42,"r":1.78},{"t":33,"e":0.48,"r":1.73},{"t":33,"e":0.55,"r":1.69},{"t":33,"e":0.63,"r":1.61},{"t":33,"e":0.73,"r":1.57},{"t":33,"e":0.85,"r":1.49},{"t":33,"e":1.0,"r":1.42},{"t":33,"e":1.2,"r":1.34},{"t":33,"e":1.45,"r":1.32},{"t":33,"e":1.75,"r":1.26},{"t":33,"e":2.1,"r":1.24},{"t":33,"e":2.6,"r":1.19},{"t":33,"e":3.2,"r":1.18},{"t":33,"e":4.0,"r":1.13},{"t":33,"e":5.0,"r":1.12},{"t":33,"e":6.5,"r":1.08},{"t":33,"e":8.5,"r":1.07},{"t":33,"e":11,"r":1.04},{"t":33,"e":15,"r":1.06},{"t":33,"e":20,"r":1.03},{"t":33,"e":27,"r":1.04},{"t":33,"e":36,"r":1.02},{"t":33,"e":47,"r":1.01},
{"t":34,"e":0.088,"r":2.40},{"t":34,"e":0.101,"r":2.24},{"t":34,"e":0.115,"r":2.33},{"t":34,"e":0.13,"r":2.50},{"t":34,"e":0.146,"r":2.30},{"t":34,"e":0.162,"r":2.21},{"t":34,"e":0.18,"r":2.05},{"t":34,"e":0.196,"r":2.15},{"t":34,"e":0.214,"r":2.23},{"t":34,"e":0.237,"r":2.03},{"t":34,"e":0.262,"r":1.98},{"t":34,"e":0.29,"r":1.92},{"t":34,"e":0.33,"r":1.90},{"t":34,"e":0.37,"r":1.83},{"t":34,"e":0.42,"r":1.83},{"t":34,"e":0.48,"r":1.76},{"t":34,"e":0.55,"r":1.72},{"t":34,"e":0.63,"r":1.64},{"t":34,"e":0.73,"r":1.60},{"t":34,"e":0.85,"r":1.51},{"t":34,"e":1.0,"r":1.44},{"t":34,"e":1.2,"r":1.36},{"t":34,"e":1.45,"r":1.34},{"t":34,"e":1.75,"r":1.27},{"t":34,"e":2.1,"r":1.25},{"t":34,"e":2.6,"r":1.20},{"t":34,"e":3.2,"r":1.19},{"t":34,"e":4.0,"r":1.14},{"t":34,"e":5.0,"r":1.13},{"t":34,"e":6.5,"r":1.09},{"t":34,"e":8.5,"r":1.07},{"t":34,"e":11,"r":1.06},{"t":34,"e":15,"r":1.04},{"t":34,"e":20,"r":1.06},{"t":34,"e":27,"r":1.02},{"t":34,"e":36,"r":1.04},{"t":34,"e":47,"r":0.99},
{"t":36,"e":0.088,"r":2.48},{"t":36,"e":0.101,"r":2.29},{"t":36,"e":0.115,"r":2.41},{"t":36,"e":0.13,"r":2.58},{"t":36,"e":0.146,"r":2.36},{"t":36,"e":0.162,"r":2.27},{"t":36,"e":0.18,"r":2.12},{"t":36,"e":0.196,"r":2.21},{"t":36,"e":0.214,"r":2.30},{"t":36,"e":0.237,"r":2.08},{"t":36,"e":0.262,"r":2.04},{"t":36,"e":0.29,"r":1.97},{"t":36,"e":0.33,"r":1.95},{"t":36,"e":0.37,"r":1.88},{"t":36,"e":0.42,"r":1.88},{"t":36,"e":0.48,"r":1.80},{"t":36,"e":0.55,"r":1.77},{"t":36,"e":0.63,"r":1.67},{"t":36,"e":0.73,"r":1.63},{"t":36,"e":0.85,"r":1.54},{"t":36,"e":1.0,"r":1.47},{"t":36,"e":1.2,"r":1.38},{"t":36,"e":1.45,"r":1.36},{"t":36,"e":1.75,"r":1.29},{"t":36,"e":2.1,"r":1.27},{"t":36,"e":2.6,"r":1.21},{"t":36,"e":3.2,"r":1.20},{"t":36,"e":4.0,"r":1.15},{"t":36,"e":5.0,"r":1.14},{"t":36,"e":6.5,"r":1.09},{"t":36,"e":8.5,"r":1.08},{"t":36,"e":11,"r":1.05},{"t":36,"e":15,"r":1.06},{"t":36,"e":20,"r":1.03},{"t":36,"e":27,"r":1.06},{"t":36,"e":36,"r":1.01},{"t":36,"e":47,"r":1.03},
{"t":37,"e":0.088,"r":2.55},{"t":37,"e":0.101,"r":2.42},{"t":37,"e":0.115,"r":2.48},{"t":37,"e":0.13,"r":2.66},{"t":37,"e":0.146,"r":2.50},{"t":37,"e":0.162,"r":2.33},{"t":37,"e":0.18,"r":2.18},{"t":37,"e":0.196,"r":2.29},{"t":37,"e":0.214,"r":2.36},{"t":37,"e":0.237,"r":2.15},{"t":37,"e":0.262,"r":2.09},{"t":37,"e":0.29,"r":2.03},{"t":37,"e":0.33,"r":2.00},{"t":37,"e":0.37,"r":1.93},{"t":37,"e":0.42,"r":1.92},{"t":37,"e":0.48,"r":1.85},{"t":37,"e":0.55,"r":1.81},{"t":37,"e":0.63,"r":1.71},{"t":37,"e":0.73,"r":1.67},{"t":37,"e":0.85,"r":1.57},{"t":37,"e":1.0,"r":1.49},{"t":37,"e":1.2,"r":1.40},{"t":37,"e":1.45,"r":1.38},{"t":37,"e":1.75,"r":1.30},{"t":37,"e":2.1,"r":1.28},{"t":37,"e":2.6,"r":1.22},{"t":37,"e":3.2,"r":1.21},{"t":37,"e":4.0,"r":1.16},{"t":37,"e":5.0,"r":1.14},{"t":37,"e":6.5,"r":1.10},{"t":37,"e":8.5,"r":1.08},{"t":37,"e":11,"r":1.06},{"t":37,"e":15,"r":1.04},{"t":37,"e":20,"r":1.07},{"t":37,"e":27,"r":1.02},{"t":37,"e":36,"r":1.05},{"t":37,"e":47,"r":0.99},
{"t":38,"e":0.088,"r":2.62},{"t":38,"e":0.101,"r":2.38},{"t":38,"e":0.115,"r":2.52},{"t":38,"e":0.13,"r":2.72},{"t":38,"e":0.146,"r":2.48},{"t":38,"e":0.162,"r":2.36},{"t":38,"e":0.18,"r":2.20},{"t":38,"e":0.196,"r":2.31},{"t":38,"e":0.214,"r":2.40},{"t":38,"e":0.237,"r":2.17},{"t":38,"e":0.262,"r":2.12},{"t":38,"e":0.29,"r":2.05},{"t":38,"e":0.33,"r":2.03},{"t":38,"e":0.37,"r":1.95},{"t":38,"e":0.42,"r":1.95},{"t":38,"e":0.48,"r":1.86},{"t":38,"e":0.55,"r":1.83},{"t":38,"e":0.63,"r":1.73},{"t":38,"e":0.73,"r":1.69},{"t":38,"e":0.85,"r":1.58},{"t":38,"e":1.0,"r":1.50},{"t":38,"e":1.2,"r":1.41},{"t":38,"e":1.45,"r":1.39},{"t":38,"e":1.75,"r":1.31},{"t":38,"e":2.1,"r":1.29},{"t":38,"e":2.6,"r":1.22},{"t":38,"e":3.2,"r":1.22},{"t":38,"e":4.0,"r":1.16},{"t":38,"e":5.0,"r":1.15},{"t":38,"e":6.5,"r":1.10},{"t":38,"e":8.5,"r":1.09},{"t":38,"e":11,"r":1.05},{"t":38,"e":15,"r":1.07},{"t":38,"e":20,"r":1.04},{"t":38,"e":27,"r":1.08},{"t":38,"e":36,"r":1.00},{"t":38,"e":47,"r":1.02},
{"t":40,"e":0.088,"r":2.70},{"t":40,"e":0.101,"r":2.45},{"t":40,"e":0.115,"r":2.60},{"t":40,"e":0.13,"r":2.90},{"t":40,"e":0.146,"r":2.62},{"t":40,"e":0.162,"r":2.45},{"t":40,"e":0.18,"r":2.27},{"t":40,"e":0.196,"r":2.40},{"t":40,"e":0.214,"r":2.50},{"t":40,"e":0.237,"r":2.25},{"t":40,"e":0.262,"r":2.20},{"t":40,"e":0.29,"r":2.12},{"t":40,"e":0.33,"r":2.09},{"t":40,"e":0.37,"r":2.01},{"t":40,"e":0.42,"r":2.00},{"t":40,"e":0.48,"r":1.93},{"t":40,"e":0.55,"r":1.88},{"t":40,"e":0.63,"r":1.77},{"t":40,"e":0.73,"r":1.73},{"t":40,"e":0.85,"r":1.62},{"t":40,"e":1.0,"r":1.54},{"t":40,"e":1.2,"r":1.44},{"t":40,"e":1.45,"r":1.41},{"t":40,"e":1.75,"r":1.33},{"t":40,"e":2.1,"r":1.31},{"t":40,"e":2.6,"r":1.24},{"t":40,"e":3.2,"r":1.23},{"t":40,"e":4.0,"r":1.17},{"t":40,"e":5.0,"r":1.16},{"t":40,"e":6.5,"r":1.11},{"t":40,"e":8.5,"r":1.09},{"t":40,"e":11,"r":1.05},{"t":40,"e":15,"r":1.08},{"t":40,"e":20,"r":1.04},{"t":40,"e":27,"r":1.09},{"t":40,"e":36,"r":1.01},{"t":40,"e":47,"r":1.04},
{"t":41,"e":0.088,"r":2.84},{"t":41,"e":0.101,"r":2.55},{"t":41,"e":0.115,"r":2.68},{"t":41,"e":0.13,"r":2.88},{"t":41,"e":0.146,"r":2.70},{"t":41,"e":0.162,"r":2.50},{"t":41,"e":0.18,"r":2.40},{"t":41,"e":0.196,"r":2.46},{"t":41,"e":0.214,"r":2.55},{"t":41,"e":0.237,"r":2.31},{"t":41,"e":0.262,"r":2.25},{"t":41,"e":0.29,"r":2.17},{"t":41,"e":0.33,"r":2.14},{"t":41,"e":0.37,"r":2.05},{"t":41,"e":0.42,"r":2.05},{"t":41,"e":0.48,"r":1.97},{"t":41,"e":0.55,"r":1.93},{"t":41,"e":0.63,"r":1.80},{"t":41,"e":0.73,"r":1.77},{"t":41,"e":0.85,"r":1.64},{"t":41,"e":1.0,"r":1.56},{"t":41,"e":1.2,"r":1.46},{"t":41,"e":1.45,"r":1.43},{"t":41,"e":1.75,"r":1.35},{"t":41,"e":2.1,"r":1.32},{"t":41,"e":2.6,"r":1.25},{"t":41,"e":3.2,"r":1.24},{"t":41,"e":4.0,"r":1.18},{"t":41,"e":5.0,"r":1.17},{"t":41,"e":6.5,"r":1.11},{"t":41,"e":8.5,"r":1.10},{"t":41,"e":11,"r":1.05},{"t":41,"e":15,"r":1.07},{"t":41,"e":20,"r":1.05},{"t":41,"e":27,"r":1.06},{"t":41,"e":36,"r":1.03},{"t":41,"e":47,"r":1.02},
{"t":42,"e":0.088,"r":2.95},{"t":42,"e":0.101,"r":2.62},{"t":42,"e":0.115,"r":2.78},{"t":42,"e":0.13,"r":2.92},{"t":42,"e":0.146,"r":2.74},{"t":42,"e":0.162,"r":2.62},{"t":42,"e":0.18,"r":2.41},{"t":42,"e":0.196,"r":2.55},{"t":42,"e":0.214,"r":2.60},{"t":42,"e":0.237,"r":2.38},{"t":42,"e":0.262,"r":2.30},{"t":42,"e":0.29,"r":2.26},{"t":42,"e":0.33,"r":2.19},{"t":42,"e":0.37,"r":2.12},{"t":42,"e":0.42,"r":2.10},{"t":42,"e":0.48,"r":2.03},{"t":42,"e":0.55,"r":1.97},{"t":42,"e":0.63,"r":1.86},{"t":42,"e":0.73,"r":1.80},{"t":42,"e":0.85,"r":1.69},{"t":42,"e":1.0,"r":1.58},{"t":42,"e":1.2,"r":1.49},{"t":42,"e":1.45,"r":1.45},{"t":42,"e":1.75,"r":1.37},{"t":42,"e":2.1,"r":1.34},{"t":42,"e":2.6,"r":1.27},{"t":42,"e":3.2,"r":1.25},{"t":42,"e":4.0,"r":1.19},{"t":42,"e":5.0,"r":1.17},{"t":42,"e":6.5,"r":1.12},{"t":42,"e":8.5,"r":1.10},{"t":42,"e":11,"r":1.06},{"t":42,"e":15,"r":1.07},{"t":42,"e":20,"r":1.09},{"t":42,"e":27,"r":1.03},{"t":42,"e":36,"r":1.08},{"t":42,"e":47,"r":0.98}
]
},
"vconcat":[
{
"width":682,"height":414,
"layer":[
{"data":{"name":"flux"},
"mark":{"type":"line","strokeWidth":2,"clip":true},
"encoding":{
"x":{"field":"e","type":"quantitative","scale":{"type":"log","domain":[0.0803,50.1],"nice":false},
"axis":{"orient":"bottom","values":[0.09,0.1,0.2,0.3,0.4,0.5,0.6,0.7,0.8,0.9,1,2,3,4,5,6,7,8,9,10,20,30,40],"labels":false,"title":null,
"tickSize":{"condition":{"test":"abs(log(datum.value)/LN10-round(log(datum.value)/LN10))<0.001","value":-8},"value":-4}}},
"y":{"field":"f","type":"quantitative","scale":{"type":"log","domain":[0.00031,4.0],"nice":false},
"axis":{"orient":"left","values":[0.0004,0.0005,0.0006,0.0007,0.0008,0.0009,0.001,0.002,0.003,0.004,0.005,0.006,0.007,0.008,0.009,0.01,0.02,0.03,0.04,0.05,0.06,0.07,0.08,0.09,0.1,0.2,0.3,0.4,0.5,0.6,0.7,0.8,0.9,1,2,3],
"labelExpr":"abs(log(datum.value)/LN10-round(log(datum.value)/LN10))<0.001 ? ['10⁻³','10⁻²','10⁻¹','10⁰'][round(log(datum.value)/LN10)+3] : ''",
"title":["Differential intensity","(particles/m² /sr/s/MeV)"],"titleLineHeight":33,"titlePadding":6,"labelPadding":15,
"tickSize":{"condition":{"test":"abs(log(datum.value)/LN10-round(log(datum.value)/LN10))<0.001","value":-8},"value":-4}}},
"color":{"field":"t","type":"quantitative",
"scale":{"domain":[0,5.25,10.5,15.75,21,26.25,31.5,36.75,42],"range":["#00007f","#0000ff","#007fff","#00ffff","#7fff7f","#ffff00","#ff7f00","#ff0000","#7f0000"],"interpolate":"rgb"},
"legend":{"title":null,"orient":"right","direction":"vertical","gradientLength":829,"gradientThickness":31,"gradientStrokeColor":"black","gradientStrokeWidth":1,"values":[0,6,12,18,24,30,36,42],"labelExpr":"['Jul06','Jan07','Jul07','Jan08','Jul08','Jan09','Jul09','Jan10'][round(datum.value/6)]","labelFontSize":24,"labelFont":"DejaVu Sans","labelColor":"black","labelBaseline":"middle","labelOffset":5,"offset":19,"padding":0,"labelOverlap":false,
"encode":{"labels":{"enter":{"baseline":{"value":"middle"}},"update":{"baseline":{"value":"middle"}}}}}},
"detail":{"field":"t","type":"quantitative"}
}},
{"data":{"values":[{"lbl":"PAMELA"}]},
"mark":{"type":"text","fontSize":22,"font":"DejaVu Sans","color":"black"},
"encoding":{
"x":{"datum":22.9,"type":"quantitative","axis":{"orient":"top","values":[0.09,0.1,0.2,0.3,0.4,0.5,0.6,0.7,0.8,0.9,1,2,3,4,5,6,7,8,9,10,20,30,40],"labels":false,"title":null,
"tickSize":{"condition":{"test":"abs(log(datum.value)/LN10-round(log(datum.value)/LN10))<0.001","value":-8},"value":-4}}},
"y":{"datum":1.265,"type":"quantitative","axis":{"orient":"right","values":[0.0004,0.0005,0.0006,0.0007,0.0008,0.0009,0.001,0.002,0.003,0.004,0.005,0.006,0.007,0.008,0.009,0.01,0.02,0.03,0.04,0.05,0.06,0.07,0.08,0.09,0.1,0.2,0.3,0.4,0.5,0.6,0.7,0.8,0.9,1,2,3],"labels":false,"title":null,
"tickSize":{"condition":{"test":"abs(log(datum.value)/LN10-round(log(datum.value)/LN10))<0.001","value":-8},"value":-4}}},
"text":{"field":"lbl"}
}}
],
"resolve":{"axis":{"x":"independent","y":"independent"}}
},
{
"width":682,"height":413,
"layer":[
{"data":{"name":"ratio"},
"mark":{"type":"line","strokeWidth":2,"clip":true},
"encoding":{
"x":{"field":"e","type":"quantitative","scale":{"type":"log","domain":[0.0803,50.1],"nice":false},
"axis":{"orient":"bottom","values":[0.09,0.1,0.2,0.3,0.4,0.5,0.6,0.7,0.8,0.9,1,2,3,4,5,6,7,8,9,10,20,30,40],
"labelExpr":"abs(log(datum.value)/LN10-round(log(datum.value)/LN10))<0.001 ? ['10⁻¹','10⁰','10¹'][round(log(datum.value)/LN10)+1] : ''",
"title":"Kinetic energy (GeV)","labelPadding":16,"titlePadding":4,
"tickSize":{"condition":{"test":"abs(log(datum.value)/LN10-round(log(datum.value)/LN10))<0.001","value":-8},"value":-4}}},
"y":{"field":"r","type":"quantitative","scale":{"domain":[0.903,3.101],"nice":false,"zero":false},
"axis":{"orient":"left","values":[1.0,1.1,1.2,1.3,1.4,1.5,1.6,1.7,1.8,1.9,2.0,2.1,2.2,2.3,2.4,2.5,2.6,2.7,2.8,2.9,3.0],
"labelExpr":"abs(datum.value*2-round(datum.value*2))<0.001 ? format(datum.value,'.1f') : ''",
"title":"Intensity relative to Jul 2006","titlePadding":22,"labelPadding":15,
"tickSize":{"condition":{"test":"abs(datum.value*2-round(datum.value*2))<0.001","value":-8},"value":-4}}},
"color":{"field":"t","type":"quantitative",
"scale":{"domain":[0,5.25,10.5,15.75,21,26.25,31.5,36.75,42],"range":["#00007f","#0000ff","#007fff","#00ffff","#7fff7f","#ffff00","#ff7f00","#ff0000","#7f0000"],"interpolate":"rgb"},
"legend":{"title":null,"orient":"right","direction":"vertical","gradientLength":829,"gradientThickness":31,"gradientStrokeColor":"black","gradientStrokeWidth":1,"values":[0,6,12,18,24,30,36,42],"labelExpr":"['Jul06','Jan07','Jul07','Jan08','Jul08','Jan09','Jul09','Jan10'][round(datum.value/6)]","labelFontSize":24,"labelFont":"DejaVu Sans","labelColor":"black","labelBaseline":"middle","labelOffset":5,"offset":19,"padding":0,"labelOverlap":false,
"encode":{"labels":{"enter":{"baseline":{"value":"middle"}},"update":{"baseline":{"value":"middle"}}}}}},
"detail":{"field":"t","type":"quantitative"}
}},
{"data":{"values":[{"k":1}]},
"mark":{"type":"point","opacity":0},
"encoding":{
"x":{"datum":1,"type":"quantitative","axis":{"orient":"top","values":[0.09,0.1,0.2,0.3,0.4,0.5,0.6,0.7,0.8,0.9,1,2,3,4,5,6,7,8,9,10,20,30,40],"labels":false,"title":null,
"tickSize":{"condition":{"test":"abs(log(datum.value)/LN10-round(log(datum.value)/LN10))<0.001","value":-8},"value":-4}}},
"y":{"datum":1,"type":"quantitative","axis":{"orient":"right","values":[1.0,1.1,1.2,1.3,1.4,1.5,1.6,1.7,1.8,1.9,2.0,2.1,2.2,2.3,2.4,2.5,2.6,2.7,2.8,2.9,3.0],"labels":false,"title":null,
"tickSize":{"condition":{"test":"abs(datum.value*2-round(datum.value*2))<0.001","value":-8},"value":-4}}}
}}
],
"resolve":{"axis":{"x":"independent","y":"independent"}}
}
]
}
